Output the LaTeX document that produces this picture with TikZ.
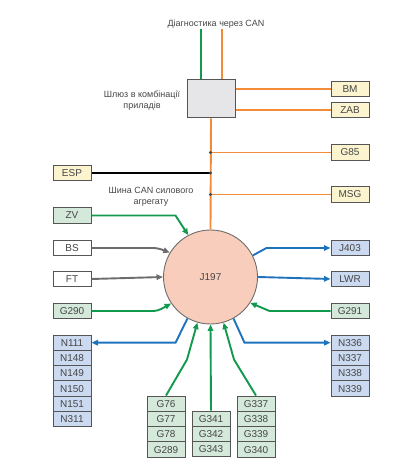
\documentclass[tikz,border=0pt]{standalone}
\usepackage{fontspec}
\setmainfont{Liberation Sans}
\usepackage{tikz}
\usepackage{xcolor}
\usetikzlibrary{arrows.meta, positioning}
\definecolor{CANOrange}{HTML}{F28C38}
\definecolor{SigGreen}{HTML}{119A4E}
\definecolor{SigBlue}{HTML}{1E73BE}
\definecolor{SigGray}{HTML}{6D6D6D}
\definecolor{BoxBorder}{HTML}{555555}
\definecolor{TextGray}{HTML}{464646}
\definecolor{FillCream}{HTML}{FBF4CF}
\definecolor{FillGreen}{HTML}{D4E9DA}
\definecolor{FillBlue}{HTML}{CBDAF0}
\definecolor{FillGate}{HTML}{E6E6E8}
\definecolor{FillECU}{HTML}{F9CDBB}

\begin{document}
\begin{tikzpicture}[x=1pt, y=1pt, node distance=15.3pt, on grid,
    box/.style={rectangle, draw=BoxBorder, line width=1pt, minimum width=38pt, minimum height=15.3pt, inner sep=0pt, text=TextGray, font=\fontsize{10}{12}\selectfont},
    cbox/.style={box, fill=FillCream},
    gbox/.style={box, fill=FillGreen},
    bbox/.style={box, fill=FillBlue},
    wbox/.style={box, fill=white},
    lbl/.style={align=center, text=TextGray, font=\fontsize{9}{11}\selectfont},
    can/.style={CANOrange, line width=1.9pt},
    sig/.style={line width=1.9pt, -{Triangle[length=6.5pt, width=5.5pt]}},
    dot/.style={circle, fill=TextGray, inner sep=0pt, minimum size=3.4pt}]

    \useasboundingbox (0,0) rectangle (402,468);

    % gateway and top
    \node[lbl] (diag) at (216,444) {Діагностика через CAN};
    \node[rectangle, draw=BoxBorder, line width=1pt, fill=FillGate, minimum width=48pt, minimum height=38pt] (gw) at (211,369) {};
    \node[lbl] (gwlbl) at (142,367) {Шлюз в комбінації\\приладів};
    \node[cbox] (BM) at (350,379) {BM};
    \node[cbox] (ZAB) at (350,358) {ZAB};

    % CAN bus nodes
    \node[cbox] (G85) at (350,315.5) {G85};
    \node[cbox] (ESP) at (72,295) {ESP};
    \node[cbox] (MSG) at (350,273.5) {MSG};
    \node[lbl] (buslbl) at (151,271) {Шина CAN силового\\агрегату};

    % engine control unit
    \node[circle, draw=SigGray, line width=0.9pt, fill=FillECU, minimum size=94pt, inner sep=0pt, text=TextGray, font=\fontsize{10}{12}\selectfont] (J197) at (210.5,191) {J197};

    % inputs and outputs left / right
    \node[gbox] (ZV) at (72,252.5) {ZV};
    \node[wbox] (BS) at (72,220) {BS};
    \node[wbox] (FT) at (72,189) {FT};
    \node[gbox] (G290) at (72,157) {G290};
    \node[bbox] (J403) at (350,220) {J403};
    \node[bbox] (LWR) at (350,189) {LWR};
    \node[gbox] (G291) at (350,157) {G291};

    % stacks
    \node[bbox] (N111) at (72,125.3) {N111};
    \node[bbox, below=of N111] (N148) {N148};
    \node[bbox, below=of N148] (N149) {N149};
    \node[bbox, below=of N149] (N150) {N150};
    \node[bbox, below=of N150] (N151) {N151};
    \node[bbox, below=of N151] (N311) {N311};

    \node[bbox] (N336) at (350,125.3) {N336};
    \node[bbox, below=of N336] (N337) {N337};
    \node[bbox, below=of N337] (N338) {N338};
    \node[bbox, below=of N338] (N339) {N339};

    \node[gbox] (G76) at (166,64.3) {G76};
    \node[gbox, below=of G76] (G77) {G77};
    \node[gbox, below=of G77] (G78) {G78};
    \node[gbox, below=of G78] (G289) {G289};

    \node[gbox] (G341) at (211,49.3) {G341};
    \node[gbox, below=of G341] (G342) {G342};
    \node[gbox, below=of G342] (G343) {G343};

    \node[gbox] (G337) at (256,64.3) {G337};
    \node[gbox, below=of G337] (G338) {G338};
    \node[gbox, below=of G338] (G339) {G339};
    \node[gbox, below=of G339] (G340) {G340};

    % CAN wiring
    \draw[SigGreen, line width=1.9pt] ([xshift=-10pt]gw.north) -- ++(0,50);
    \draw[can] ([xshift=11pt]gw.north) -- ++(0,50);
    \draw[can] (BM.west -| gw.east) -- (BM.west);
    \draw[can] (ZAB.west -| gw.east) -- (ZAB.west);
    \draw[can] (gw.south) -- (J197.north);
    \draw[can] (G85.west -| J197.north) node[dot] {} -- (G85.west);
    \draw[can] (MSG.west -| J197.north) node[dot] {} -- (MSG.west);
    \draw[black, line width=1.4pt] (ESP.east) -- (ESP.east -| J197.north) node[dot] {};

    % signals
    \draw[sig, SigGreen] (ZV.east) -- ++(84,0) -- (J197.118);
    \draw[sig, SigGray, rounded corners=4pt] (BS.east) -- ++(66,0) -- (J197.149);
    \draw[sig, SigGray] (FT.east) -- (J197.west);
    \draw[sig, SigGreen, rounded corners=4pt] (G290.east) -- ++(66,0) -- (J197.214);
    \draw[sig, SigGreen] (G291.west) -- ++(-61,0) -- (J197.327);
    \draw[sig, SigBlue] (J197.27) -- ([xshift=-64pt]J403.west) -- (J403.west);
    \draw[sig, SigBlue] (J197.east) -- (LWR.west);
    \draw[sig, SigBlue] (J197.241) -- ([xshift=84pt]N111.east) -- (N111.east);
    \draw[sig, SigBlue] (J197.299) -- ([xshift=-86pt]N336.west) -- (N336.west);
    \draw[sig, SigGreen] (G76.north) -- ++(21,36) -- (J197.254);
    \draw[sig, SigGreen] (G341.north) -- (J197.270);
    \draw[sig, SigGreen] (G337.north) -- ++(-22,36) -- (J197.286);

\end{tikzpicture}
\end{document}
